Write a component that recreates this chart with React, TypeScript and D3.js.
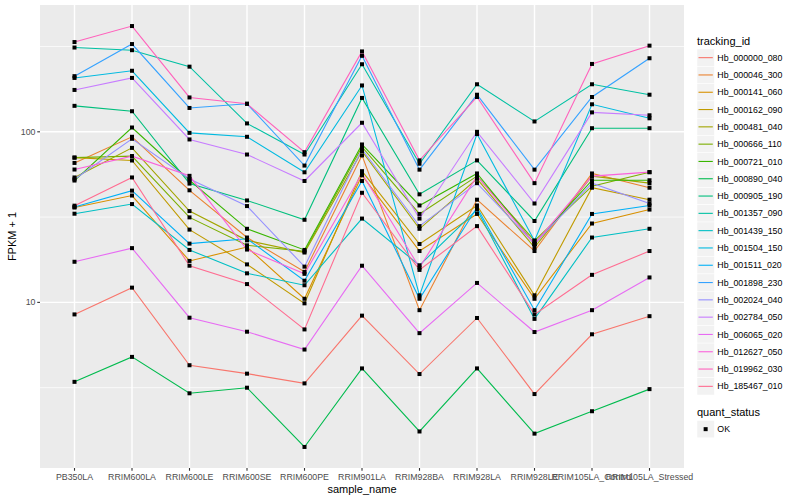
import React from "react";
import * as d3 from "d3";

const categories = [
  "PB350LA", "RRIM600LA", "RRIM600LE", "RRIM600SE", "RRIM600PE", "RRIM901LA",
  "RRIM928BA", "RRIM928LA", "RRIM928LE", "RRIM105LA_Control", "RRIM105LA_Stressed",
];

const trackingIds = [
  "Hb_000000_080", "Hb_000046_300", "Hb_000141_060", "Hb_000162_090", "Hb_000481_040",
  "Hb_000666_110", "Hb_000721_010", "Hb_000890_040", "Hb_000905_190", "Hb_001357_090",
  "Hb_001439_150", "Hb_001504_150", "Hb_001511_020", "Hb_001898_230", "Hb_002024_040",
  "Hb_002784_050", "Hb_006065_020", "Hb_012627_050", "Hb_019962_030", "Hb_185467_010",
];

const hb000000_080 = [8.5, 12.2, 4.28, 3.82, 3.35, 8.36, 3.8, 8.1, 2.9, 6.5, 8.3];
const hb000046_300 = [65.7, 93.5, 45.4, 24, 15.1, 72.7, 9, 40, 20, 57, 47];
const hb000141_060 = [36, 42.3, 17.5, 21.1, 10.5, 55.6, 20, 33, 10.5, 29, 35];
const hb000162_090 = [70.6, 67.9, 26.7, 16.7, 9.87, 58.8, 22, 37, 11, 47, 40];
const hb000481_040 = [54, 80.5, 34.3, 23.1, 19.6, 77, 27, 53, 21, 55, 50];
const hb000666_110 = [70.6, 72, 31.5, 21.6, 19.9, 81.6, 33, 55, 23, 48, 58];
const hb000721_010 = [51.8, 106, 52, 27, 20.3, 84.3, 37, 57, 22, 52, 52];
const hb000890_040 = [3.42, 4.79, 2.93, 3.16, 1.42, 4.1, 1.75, 4.1, 1.7, 2.3, 3.1];
const hb000905_190 = [142, 132, 49.7, 39.6, 30.5, 158, 43, 68, 30, 105, 105];
const hb001357_090 = [312, 301, 241, 112, 73.6, 249, 65, 190, 115, 190, 165];
const hb001439_150 = [33.1, 37.7, 20.3, 14.8, 12.6, 31, 16.5, 35, 8, 24, 27];
const hb001504_150 = [207, 228, 98.6, 93.5, 57.9, 187, 11, 97, 23, 145, 120];
const hb001511_020 = [36.2, 45.2, 22.1, 23.6, 13.4, 51.5, 10.5, 36, 9, 33, 37];
const hb001898_230 = [212, 327, 138, 146, 63.4, 279, 60, 165, 60, 160, 270];
const hb002024_040 = [52.7, 91, 52.9, 36.7, 16.2, 79.1, 28, 50, 22, 50, 38];
const hb002784_050 = [176, 207, 90.2, 73.6, 51.5, 113, 31, 100, 38, 130, 125];
const hb006065_020 = [17.3, 20.8, 8.13, 6.73, 5.29, 16.4, 6.6, 13, 6.7, 9, 14];
const hb012627_050 = [60.1, 72, 55.2, 20.4, 14.7, 56.9, 16, 55, 22, 55, 58];
const hb019962_030 = [336, 417, 159, 146, 76, 296, 68, 160, 50, 250, 320];
const hb185467_010 = [36.9, 54, 16.4, 12.8, 6.94, 43.9, 15.5, 28, 8.5, 14.5, 20];

const seriesValues = [
  hb000000_080, hb000046_300, hb000141_060, hb000162_090, hb000481_040,
  hb000666_110, hb000721_010, hb000890_040, hb000905_190, hb001357_090,
  hb001439_150, hb001504_150, hb001511_020, hb001898_230, hb002024_040,
  hb002784_050, hb006065_020, hb012627_050, hb019962_030, hb185467_010,
];

const palette = [
  "#F8766D", "#EA8331", "#D89000", "#C09B00", "#A3A500", "#7CAE00", "#39B600",
  "#00BB4E", "#00BF7D", "#00C1A3", "#00BFC4", "#00BAE0", "#00B0F6", "#35A2FF",
  "#9590FF", "#C77CFF", "#E76BF3", "#FA62DB", "#FF62BC", "#FF6C91",
];

const yMajorTicks = [10, 100];
const yMinorTicks = [Math.sqrt(10), Math.sqrt(1000), Math.sqrt(100000)];

const W = 800;
const H = 500;
const panel = { left: 40, right: 684, top: 5, bottom: 468 };
const FONT = "'Liberation Sans', Arial, Helvetica, sans-serif";

export default function App() {
  const x = d3.scalePoint<string>().domain(categories).range([panel.left, panel.right]).padding(0.6);
  const all = seriesValues.flat();
  const lmin = Math.log10(d3.min(all)!);
  const lmax = Math.log10(d3.max(all)!);
  const ex = (lmax - lmin) * 0.05;
  const y = d3.scaleLog().domain([Math.pow(10, lmin - ex), Math.pow(10, lmax + ex)]).range([panel.bottom, panel.top]);
  const line = d3.line<number>().x((_, i) => x(categories[i])!).y((v) => y(v));

  const legendX = 697;
  const keyH = 17.3;
  const keyTop = 49;
  const ps = 4;

  return (
    <svg width={W} height={H} style={{ position: "absolute", left: 0, top: 0, background: "#fff" }} fontFamily={FONT}>
      <rect x={0} y={0} width={W} height={H} fill="#fff" />
      <rect x={panel.left} y={panel.top} width={panel.right - panel.left} height={panel.bottom - panel.top} fill="#EBEBEB" />
      {yMinorTicks.filter((t) => y(t) > panel.top && y(t) < panel.bottom).map((t) => (
        <line key={"mn" + t} x1={panel.left} x2={panel.right} y1={y(t)} y2={y(t)} stroke="#fff" strokeWidth={0.7} />
      ))}
      {yMajorTicks.map((t) => (
        <line key={"mj" + t} x1={panel.left} x2={panel.right} y1={y(t)} y2={y(t)} stroke="#fff" strokeWidth={1.4} />
      ))}
      {categories.map((c) => (
        <line key={"vx" + c} x1={x(c)} x2={x(c)} y1={panel.top} y2={panel.bottom} stroke="#fff" strokeWidth={1.4} />
      ))}
      {seriesValues.map((vals, i) => (
        <path key={"l" + i} d={line(vals)!} fill="none" stroke={palette[i]} strokeWidth={1.1} />
      ))}
      {seriesValues.map((vals, i) =>
        vals.map((v, j) => (
          <rect key={"p" + i + "-" + j} x={x(categories[j])! - ps / 2} y={y(v) - ps / 2} width={ps} height={ps} fill="#000" />
        ))
      )}
      {yMajorTicks.map((t) => (
        <g key={"yt" + t}>
          <line x1={panel.left - 2.75} x2={panel.left} y1={y(t)} y2={y(t)} stroke="#333" strokeWidth={1.1} />
          <text x={panel.left - 4.5} y={y(t)} dy="0.35em" textAnchor="end" fontSize={8.8} fill="#4D4D4D">{t}</text>
        </g>
      ))}
      {categories.map((c) => (
        <g key={"xt" + c}>
          <line x1={x(c)} x2={x(c)} y1={panel.bottom} y2={panel.bottom + 2.75} stroke="#333" strokeWidth={1.1} />
          <text x={x(c)} y={panel.bottom + 12} textAnchor="middle" fontSize={8.8} fill="#4D4D4D">{c}</text>
        </g>
      ))}
      <text x={(panel.left + panel.right) / 2} y={493} textAnchor="middle" fontSize={11} fill="#000">sample_name</text>
      <text transform={`translate(16,${(panel.top + panel.bottom) / 2}) rotate(-90)`} textAnchor="middle" fontSize={11} fill="#000">FPKM + 1</text>
      <text x={legendX} y={44.5} fontSize={11} fill="#000">tracking_id</text>
      {trackingIds.map((id, i) => {
        const ky = keyTop + i * keyH;
        return (
          <g key={"lg" + id}>
            <rect x={legendX} y={ky} width={keyH} height={keyH} fill="#F2F2F2" stroke="#fff" strokeWidth={0.5} />
            <line x1={legendX + 1.5} x2={legendX + keyH - 1.5} y1={ky + keyH / 2} y2={ky + keyH / 2} stroke={palette[i]} strokeWidth={1.1} />
            <text x={legendX + keyH + 3} y={ky + keyH / 2} dy="0.35em" fontSize={8.8} fill="#000">{id}</text>
          </g>
        );
      })}
      <text x={legendX} y={416} fontSize={11} fill="#000">quant_status</text>
      <rect x={legendX} y={420.5} width={keyH} height={keyH} fill="#F2F2F2" stroke="#fff" strokeWidth={0.5} />
      <rect x={legendX + keyH / 2 - ps / 2} y={420.5 + keyH / 2 - ps / 2} width={ps} height={ps} fill="#000" />
      <text x={legendX + keyH + 3} y={420.5 + keyH / 2} dy="0.35em" fontSize={8.8} fill="#000">OK</text>
    </svg>
  );
}
